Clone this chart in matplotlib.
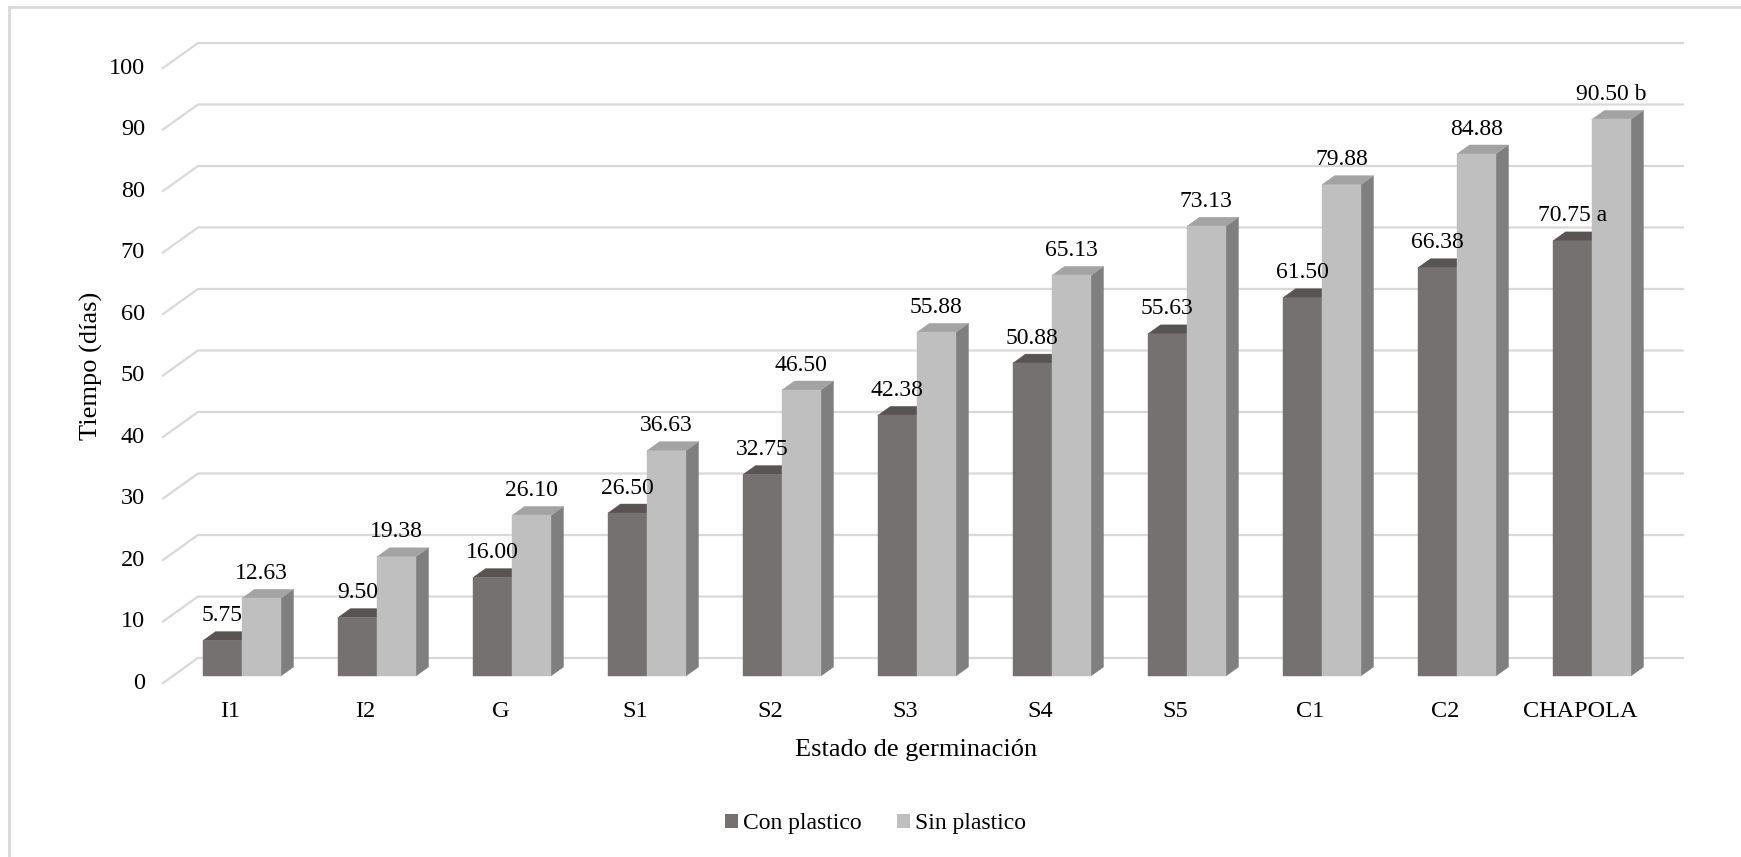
import matplotlib
matplotlib.use("Agg")
import matplotlib.pyplot as plt
from matplotlib.patches import Polygon, Patch

# -----------------------------
# Data
# -----------------------------
categories = ["I1", "I2", "G", "S1", "S2", "S3", "S4", "S5", "C1", "C2", "CHAPOLA"]
con_plastico = [5.75, 9.50, 16.00, 26.50, 32.75, 42.38, 50.88, 55.63, 61.50, 66.38, 70.75]
sin_plastico = [12.63, 19.38, 26.10, 36.63, 46.50, 55.88, 65.13, 73.13, 79.88, 84.88, 90.50]
con_labels = ["5.75", "9.50", "16.00", "26.50", "32.75", "42.38", "50.88", "55.63", "61.50", "66.38", "70.75 a"]
sin_labels = ["12.63", "19.38", "26.10", "36.63", "46.50", "55.88", "65.13", "73.13", "79.88", "84.88", "90.50 b"]
y_ticks = list(range(0, 101, 10))

# -----------------------------
# Fake 3D geometry (data units)
# -----------------------------
DX, DY = 0.259, 4.07       # depth vector of the floor
T0, T1 = 0.28, 0.64        # bar front / back along depth
BW = 0.289                 # bar width

plt.rcParams["font.family"] = ["Liberation Serif", "DejaVu Serif"]

fig = plt.figure(figsize=(17.41, 8.57), dpi=100)
ax = fig.add_axes([0, 0, 1, 1])
ax.set_xlim(-1.2074, 11.689)
ax.set_ylim(-28.29, 111.06)
ax.axis("off")

grid_c = "#D9D9D9"
for v in y_ticks:
    ax.plot([0, DX, len(categories) + DX], [v, v + DY, v + DY], color=grid_c, lw=1.6, zorder=1)
    ax.text(-0.133, v, str(v), ha="right", va="center", fontsize=17.5)


def bar3d(x0, x1, v, front, top, side):
    f = [(x0 + T0 * DX, T0 * DY), (x1 + T0 * DX, T0 * DY), (x1 + T0 * DX, v + T0 * DY), (x0 + T0 * DX, v + T0 * DY)]
    t = [(x0 + T0 * DX, v + T0 * DY), (x1 + T0 * DX, v + T0 * DY), (x1 + T1 * DX, v + T1 * DY), (x0 + T1 * DX, v + T1 * DY)]
    s = [(x1 + T0 * DX, T0 * DY), (x1 + T1 * DX, T1 * DY), (x1 + T1 * DX, v + T1 * DY), (x1 + T0 * DX, v + T0 * DY)]
    for pts, c in ((s, side), (t, top), (f, front)):
        ax.add_patch(Polygon(pts, closed=True, facecolor=c, edgecolor=c, lw=0.3, zorder=3))


for i, cat in enumerate(categories):
    c = i + 0.5 + 0.012
    bar3d(c - BW, c, con_plastico[i], "#767171", "#595454", "#5f5b5b")
    bar3d(c, c + BW, sin_plastico[i], "#BFBFBF", "#A3A3A3", "#7F7F7F")
    ax.text(c - BW / 2 + T0 * DX, con_plastico[i] + T1 * DY + 1.7, con_labels[i],
            ha="center", va="baseline", fontsize=17, zorder=4)
    ax.text(c + BW / 2 + T0 * DX, sin_plastico[i] + T1 * DY + 1.7, sin_labels[i],
            ha="center", va="baseline", fontsize=17, zorder=4)
    ax.text(i + 0.5, -4.7, cat, ha="center", va="center", fontsize=17.5)

ax.text(-0.533, 51.5, "Tiempo (días)", rotation=90, ha="center", va="center", fontsize=19)
ax.text(5.5 + 0.075, -10.9, "Estado de germinación", ha="center", va="center", fontsize=19)

handles = [Patch(facecolor="#767171", label="Con plastico"),
           Patch(facecolor="#BFBFBF", label="Sin plastico")]
ax.legend(handles=handles, loc="center", bbox_to_anchor=(0.503, 0.039), ncol=2, frameon=False,
          fontsize=17, handlelength=0.55, handleheight=0.55, handletextpad=0.2, columnspacing=1.5)

# chart border (top and left visible)
fig.add_artist(plt.Line2D([9 / 1741, 9 / 1741], [0, 1 - 7 / 857], color=grid_c, lw=2))
fig.add_artist(plt.Line2D([9 / 1741, 1], [1 - 7 / 857, 1 - 7 / 857], color=grid_c, lw=2))

fig.savefig("out.png", dpi=100)
